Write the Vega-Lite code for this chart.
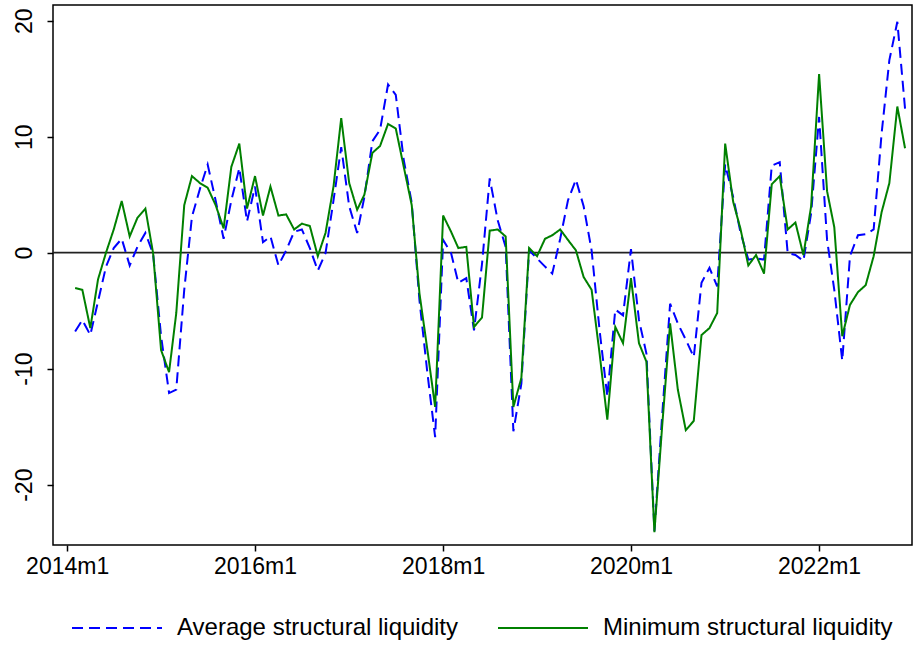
{
  "$schema": "https://vega.github.io/schema/vega-lite/v6.json",
  "width": 859,
  "height": 540,
  "autosize": {"type": "none"},
  "padding": {"left": 53, "top": 5, "right": 2, "bottom": 101},
  "background": "white",
  "config": {"view": {"stroke": "#000", "strokeWidth": 1.5}, "font": "Liberation Sans"},
  "layer": [
    {
      "data": {"values": [{"y": 0}]},
      "mark": {"type": "rule", "color": "#222", "strokeWidth": 1.6},
      "encoding": {
        "y": {"field": "y", "type": "quantitative", "title": null, "scale": {"domain": [-25.2, 21.35], "nice": false, "zero": false}}
      }
    },
    {
      "data": {"values": [
        {"date": "2014-02-01", "avg": -6.8, "min": -3.05},
        {"date": "2014-03-01", "avg": -5.8, "min": -3.2},
        {"date": "2014-04-01", "avg": -7.1, "min": -6.5},
        {"date": "2014-05-01", "avg": -4.2, "min": -2.3},
        {"date": "2014-06-01", "avg": -1.2, "min": 0.0},
        {"date": "2014-07-01", "avg": 0.4, "min": 2.0},
        {"date": "2014-08-01", "avg": 1.2, "min": 4.45},
        {"date": "2014-09-01", "avg": -1.1, "min": 1.4},
        {"date": "2014-10-01", "avg": 0.5, "min": 3.0},
        {"date": "2014-11-01", "avg": 1.7, "min": 3.8},
        {"date": "2014-12-01", "avg": -0.1, "min": -0.05},
        {"date": "2015-01-01", "avg": -7.2, "min": -8.4},
        {"date": "2015-02-01", "avg": -12.1, "min": -10.3},
        {"date": "2015-03-01", "avg": -11.8, "min": -5.2},
        {"date": "2015-04-01", "avg": -3.2, "min": 4.1},
        {"date": "2015-05-01", "avg": 3.1, "min": 6.6},
        {"date": "2015-06-01", "avg": 5.5, "min": 6.0},
        {"date": "2015-07-01", "avg": 7.6, "min": 5.6},
        {"date": "2015-08-01", "avg": 4.5, "min": 4.1},
        {"date": "2015-09-01", "avg": 1.2, "min": 2.1},
        {"date": "2015-10-01", "avg": 4.5, "min": 7.4},
        {"date": "2015-11-01", "avg": 7.3, "min": 9.4},
        {"date": "2015-12-01", "avg": 2.7, "min": 3.8},
        {"date": "2016-01-01", "avg": 5.7, "min": 6.6},
        {"date": "2016-02-01", "avg": 0.9, "min": 3.2},
        {"date": "2016-03-01", "avg": 1.4, "min": 5.7},
        {"date": "2016-04-01", "avg": -1.1, "min": 3.2},
        {"date": "2016-05-01", "avg": 0.2, "min": 3.3},
        {"date": "2016-06-01", "avg": 1.8, "min": 2.0},
        {"date": "2016-07-01", "avg": 2.0, "min": 2.5},
        {"date": "2016-08-01", "avg": 0.4, "min": 2.3},
        {"date": "2016-09-01", "avg": -1.55, "min": -0.3},
        {"date": "2016-10-01", "avg": -0.05, "min": 1.7},
        {"date": "2016-11-01", "avg": 4.5, "min": 5.7},
        {"date": "2016-12-01", "avg": 9.1, "min": 11.6},
        {"date": "2017-01-01", "avg": 4.0, "min": 6.0},
        {"date": "2017-02-01", "avg": 1.7, "min": 3.7},
        {"date": "2017-03-01", "avg": 4.8, "min": 5.0},
        {"date": "2017-04-01", "avg": 9.6, "min": 8.6},
        {"date": "2017-05-01", "avg": 10.6, "min": 9.2},
        {"date": "2017-06-01", "avg": 14.5, "min": 11.1},
        {"date": "2017-07-01", "avg": 13.6, "min": 10.7},
        {"date": "2017-08-01", "avg": 8.0, "min": 7.4},
        {"date": "2017-09-01", "avg": 4.3, "min": 4.1},
        {"date": "2017-10-01", "avg": -4.1, "min": -3.5},
        {"date": "2017-11-01", "avg": -10.4, "min": -8.4},
        {"date": "2017-12-01", "avg": -15.9, "min": -13.3},
        {"date": "2018-01-01", "avg": 1.1, "min": 3.2},
        {"date": "2018-02-01", "avg": -0.05, "min": 1.8},
        {"date": "2018-03-01", "avg": -2.6, "min": 0.4},
        {"date": "2018-04-01", "avg": -2.2, "min": 0.5},
        {"date": "2018-05-01", "avg": -6.7, "min": -6.4},
        {"date": "2018-06-01", "avg": -1.0, "min": -5.6},
        {"date": "2018-07-01", "avg": 6.4, "min": 1.9},
        {"date": "2018-08-01", "avg": 2.8, "min": 2.0},
        {"date": "2018-09-01", "avg": 0.5, "min": 1.4},
        {"date": "2018-10-01", "avg": -15.4, "min": -13.3},
        {"date": "2018-11-01", "avg": -11.3, "min": -10.8},
        {"date": "2018-12-01", "avg": 0.2, "min": 0.4},
        {"date": "2019-01-01", "avg": -0.5, "min": -0.3},
        {"date": "2019-02-01", "avg": -1.2, "min": 1.2},
        {"date": "2019-03-01", "avg": -1.8, "min": 1.5},
        {"date": "2019-04-01", "avg": 1.2, "min": 2.0},
        {"date": "2019-05-01", "avg": 4.5, "min": 1.1},
        {"date": "2019-06-01", "avg": 6.3, "min": 0.2},
        {"date": "2019-07-01", "avg": 4.0, "min": -2.1},
        {"date": "2019-08-01", "avg": 0.2, "min": -3.2},
        {"date": "2019-09-01", "avg": -6.7, "min": -8.7},
        {"date": "2019-10-01", "avg": -12.4, "min": -14.4},
        {"date": "2019-11-01", "avg": -4.9, "min": -6.4},
        {"date": "2019-12-01", "avg": -5.4, "min": -7.8},
        {"date": "2020-01-01", "avg": 0.3, "min": -2.2},
        {"date": "2020-02-01", "avg": -5.8, "min": -7.8},
        {"date": "2020-03-01", "avg": -8.7, "min": -9.4},
        {"date": "2020-04-01", "avg": -24.0, "min": -24.1},
        {"date": "2020-05-01", "avg": -14.1, "min": -15.0},
        {"date": "2020-06-01", "avg": -4.4, "min": -6.1},
        {"date": "2020-07-01", "avg": -6.1, "min": -11.8},
        {"date": "2020-08-01", "avg": -7.5, "min": -15.3},
        {"date": "2020-09-01", "avg": -9.0, "min": -14.5},
        {"date": "2020-10-01", "avg": -2.6, "min": -7.1},
        {"date": "2020-11-01", "avg": -1.3, "min": -6.5},
        {"date": "2020-12-01", "avg": -2.9, "min": -5.2},
        {"date": "2021-01-01", "avg": 7.6, "min": 9.4},
        {"date": "2021-02-01", "avg": 4.8, "min": 4.4},
        {"date": "2021-03-01", "avg": 1.8, "min": 2.1},
        {"date": "2021-04-01", "avg": -0.6, "min": -1.1},
        {"date": "2021-05-01", "avg": -0.5, "min": -0.2},
        {"date": "2021-06-01", "avg": -0.6, "min": -1.8},
        {"date": "2021-07-01", "avg": 7.5, "min": 5.9},
        {"date": "2021-08-01", "avg": 7.8, "min": 6.6},
        {"date": "2021-09-01", "avg": -0.05, "min": 2.0},
        {"date": "2021-10-01", "avg": -0.2, "min": 2.6},
        {"date": "2021-11-01", "avg": -0.7, "min": -0.2},
        {"date": "2021-12-01", "avg": 3.4, "min": 4.0},
        {"date": "2022-01-01", "avg": 11.7, "min": 15.4},
        {"date": "2022-02-01", "avg": 1.1, "min": 5.3},
        {"date": "2022-03-01", "avg": -3.2, "min": 2.2},
        {"date": "2022-04-01", "avg": -9.3, "min": -7.2},
        {"date": "2022-05-01", "avg": -0.3, "min": -4.5},
        {"date": "2022-06-01", "avg": 1.5, "min": -3.4},
        {"date": "2022-07-01", "avg": 1.6, "min": -2.8},
        {"date": "2022-08-01", "avg": 2.0, "min": -0.3},
        {"date": "2022-09-01", "avg": 10.3, "min": 3.5},
        {"date": "2022-10-01", "avg": 16.6, "min": 6.0},
        {"date": "2022-11-01", "avg": 19.9, "min": 12.6},
        {"date": "2022-12-01", "avg": 12.4, "min": 9.0}
      ]},
      "transform": [{"fold": ["avg", "min"], "as": ["series", "value"]}],
      "mark": {"type": "line", "strokeWidth": 2},
      "encoding": {
        "x": {
          "field": "date", "type": "temporal",
          "scale": {"type": "utc", "domain": [{"year": 2013, "month": 11, "date": 7, "utc": true}, {"year": 2022, "month": 12, "date": 28, "utc": true}]},
          "axis": {
            "title": null,
            "values": [
              {"year": 2014, "month": 1, "date": 1, "utc": true},
              {"year": 2016, "month": 1, "date": 1, "utc": true},
              {"year": 2018, "month": 1, "date": 1, "utc": true},
              {"year": 2020, "month": 1, "date": 1, "utc": true},
              {"year": 2022, "month": 1, "date": 1, "utc": true}
            ],
            "labelExpr": "utcFormat(datum.value, '%Y') + 'm1'",
            "grid": false, "domain": false,
            "tickSize": 6, "tickColor": "#000", "tickWidth": 1.5,
            "labelFontSize": 23, "labelColor": "#000", "labelPadding": 4, "labelFont": "Liberation Sans"
          }
        },
        "y": {
          "field": "value", "type": "quantitative",
          "scale": {"domain": [-25.2, 21.35], "nice": false, "zero": false},
          "axis": {
            "title": null,
            "values": [-20, -10, 0, 10, 20],
            "labelExpr": "datum.value + ''",
            "labelAngle": -90, "labelAlign": "center", "labelBaseline": "alphabetic",
            "grid": false, "domain": false,
            "tickSize": 6, "tickColor": "#000", "tickWidth": 1.5,
            "labelFontSize": 23, "labelColor": "#000", "labelPadding": 16, "labelFont": "Liberation Sans"
          }
        },
        "color": {
          "field": "series", "type": "nominal",
          "scale": {"domain": ["avg", "min"], "range": ["#0000ff", "#008000"]},
          "legend": {
            "title": null, "orient": "none", "legendX": 18, "legendY": 577,
            "direction": "horizontal",
            "symbolType": "stroke", "symbolSize": 8100, "symbolStrokeWidth": 2,
            "labelFontSize": 24, "labelFont": "Liberation Sans", "labelColor": "#000",
            "labelOffset": 14, "columnPadding": 35, "padding": 0, "labelLimit": 500,
            "labelExpr": "datum.label == 'avg' ? 'Average structural liquidity' : 'Minimum structural liquidity'"
          }
        },
        "strokeDash": {
          "field": "series", "type": "nominal",
          "scale": {"domain": ["avg", "min"], "range": [[11, 6], [1, 0]]}
        }
      }
    }
  ]
}
